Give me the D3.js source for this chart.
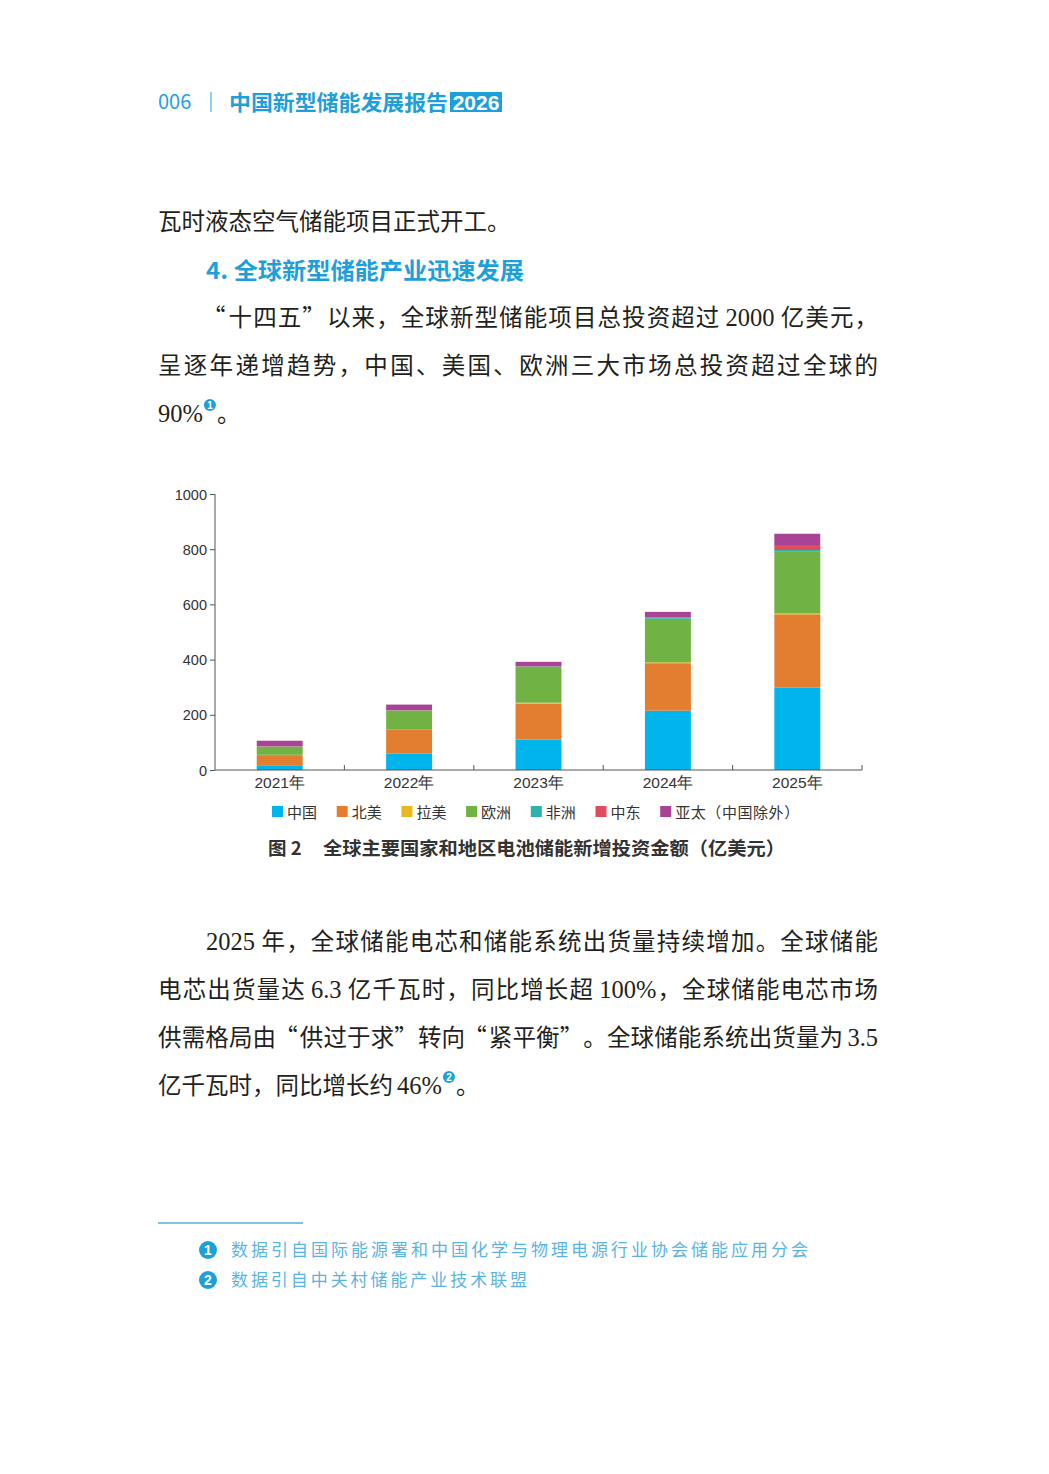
<!DOCTYPE html>
<html>
<head>
<meta charset="utf-8">
<script src="https://cdn.jsdelivr.net/npm/d3@7/dist/d3.min.js"></script>
<style>
  html, body { margin: 0; padding: 0; background: #fff; }
  svg { display: block; }
</style>
</head>
<body>
<div id="page"></div>
<script>
// chart values (亿美元)
var years = ["2021年", "2022年", "2023年", "2024年", "2025年"];
var regions = ["中国", "北美", "拉美", "欧洲", "非洲", "中东", "亚太（中国除外）"];
var china = [15, 59, 110, 215, 299];
var northAmerica = [39, 86, 131, 172, 265];
var latinAmerica = [1, 1, 3, 3, 3];
var europe = [29, 69, 129, 158, 226];
var africa = [1, 1, 2, 3, 4];
var middleEast = [1, 1, 1, 2, 15];
var asiaPacific = [20, 20, 16, 20, 44];
var yTicks = [0, 200, 400, 600, 800, 1000];

var colors = ["#00b4ec", "#e37e31", "#e8b820", "#71b244", "#2db3aa", "#e04c5a", "#a94494"];
var blue = "#1e9fd9";

var W = 1049, H = 1474;
var svg = d3.select("#page").append("svg").attr("width", W).attr("height", H);

// ---- page header
var head = svg.append("g").attr("fill", blue).style("font-family", "'Noto Sans CJK SC', sans-serif");
head.append("text").attr("x", 158).attr("y", 109).style("font-size", "20px").text("006");
head.append("line").attr("x1", 211).attr("x2", 211).attr("y1", 92).attr("y2", 112)
    .attr("stroke", blue).attr("stroke-width", 1);
head.append("text").attr("x", 229).attr("y", 110).style("font-size", "21px").style("font-weight", "bold")
    .attr("textLength", 219).attr("lengthAdjust", "spacingAndGlyphs").text("中国新型储能发展报告");
head.append("rect").attr("x", 450).attr("y", 92).attr("width", 52).attr("height", 20).attr("fill", blue);
head.append("text").attr("x", 476).attr("y", 110).attr("text-anchor", "middle").attr("fill", "#fff")
    .style("font-family", "Arial, 'Liberation Sans', sans-serif")
    .style("font-size", "21px").style("font-weight", "bold").text("2026");

// ---- body text, laid out token by token so that CJK glyphs take the spacing
var cjkFont = "'Noto Sans CJK SC', sans-serif";
var latinFont = "'Liberation Serif', serif";
var fs = 23.5;

function setLine(g, x, y, str, width) {
  var tokens = str.match(/[A-Za-z0-9.%]+|\s+|./g);
  var items = tokens.map(function(tk) {
    var isLatin = /^[A-Za-z0-9.%]+$/.test(tk);
    var isSpace = /^\s+$/.test(tk);
    var t = g.append("text").attr("y", y).text(isSpace ? "" : tk)
        .style("font-family", isLatin ? latinFont : cjkFont)
        .style("font-size", (isLatin ? fs + 1 : fs) + "px");
    var w;
    if (isSpace) w = 4;
    else if (tk === "“" || tk === "”") w = fs;
    else w = t.node().getComputedTextLength();
    if (tk === "“") t.attr("text-anchor", "end");
    return { t: t, w: w, tk: tk };
  });
  var total = d3.sum(items, function(d) { return d.w; });
  var gap = width ? (width - total) / (items.length - 1) : 0;
  var cx = x;
  items.forEach(function(d) {
    d.t.attr("x", d.tk === "“" ? cx + d.w - 2 : cx);
    cx += d.w + gap;
  });
  return cx - gap;
}

var body = svg.append("g").attr("fill", "#231f20");

setLine(body, 158, 230, "瓦时液态空气储能项目正式开工。");
svg.append("text").attr("x", 206).attr("y", 279).attr("fill", blue)
    .style("font-family", cjkFont).style("font-size", "23px").style("font-weight", "bold")
    .attr("textLength", 318).attr("lengthAdjust", "spacingAndGlyphs")
    .text("4. 全球新型储能产业迅速发展");
setLine(body, 204, 326, "“十四五”以来，全球新型储能项目总投资超过 2000 亿美元，", 674);
setLine(body, 158, 374, "呈逐年递增趋势，中国、美国、欧洲三大市场总投资超过全球的", 720);
var end1 = setLine(body, 158, 422, "90%");
setLine(body, end1 + 14, 422, "。");

setLine(body, 206, 950, "2025 年，全球储能电芯和储能系统出货量持续增加。全球储能", 672);
setLine(body, 158, 998, "电芯出货量达 6.3 亿千瓦时，同比增长超 100%，全球储能电芯市场", 720);
setLine(body, 158, 1046, "供需格局由“供过于求”转向“紧平衡”。全球储能系统出货量为 3.5", 720);
var end2 = setLine(body, 158, 1094, "亿千瓦时，同比增长约 46%");
setLine(body, end2 + 14, 1094, "。");

// footnote markers
function marker(cx, cy, r, n, size) {
  svg.append("circle").attr("cx", cx).attr("cy", cy).attr("r", r).attr("fill", blue);
  svg.append("text").attr("x", cx).attr("y", cy + size * 0.36).attr("text-anchor", "middle")
      .attr("fill", "#fff").style("font-family", "'Liberation Sans', sans-serif")
      .style("font-size", size + "px").style("font-weight", "bold").text(n);
}
marker(end1 + 7, 405, 6, "1", 10);
marker(end2 + 7, 1077, 6, "2", 10);

// ---- chart
var margin = { left: 215, right: 862, top: 494, bottom: 770 };

var stackData = years.map(function(y, i) {
  return { year: y, v0: china[i], v1: northAmerica[i], v2: latinAmerica[i], v3: europe[i],
           v4: africa[i], v5: middleEast[i], v6: asiaPacific[i] };
});
var keys = ["v0", "v1", "v2", "v3", "v4", "v5", "v6"];
var series = d3.stack().keys(keys)(stackData);

var x = d3.scaleBand().domain(years).range([margin.left, margin.right]).padding(0);
var y = d3.scaleLinear().domain([0, 1000]).range([margin.bottom, margin.top]);
var barW = x.bandwidth() * 0.355;

var chart = svg.append("g").style("font-family", "'Noto Sans CJK SC', 'Open Sans', sans-serif");

chart.selectAll("g.layer")
  .data(series)
  .enter().append("g")
    .attr("class", "layer")
    .attr("fill", function(d, i) { return colors[i]; })
  .selectAll("rect")
  .data(function(d) { return d; })
  .enter().append("rect")
    .attr("x", function(d) { return x(d.data.year) + (x.bandwidth() - barW) / 2; })
    .attr("width", barW)
    .attr("y", function(d) { return y(d[1]); })
    .attr("height", function(d) { return y(d[0]) - y(d[1]); });

// y axis
var yAxis = chart.append("g")
    .attr("transform", "translate(" + margin.left + ",0)")
    .call(d3.axisLeft(y).tickValues(yTicks).tickSize(5).tickPadding(3).tickFormat(d3.format("d")));
yAxis.select(".domain").attr("stroke", "#555").attr("d", "M0," + margin.top + "V" + margin.bottom);
yAxis.selectAll(".tick line").attr("stroke", "#555");
yAxis.selectAll("text").attr("fill", "#333").style("font-size", "14.5px").attr("dy", "0.35em");

// x axis: labels centred, tick marks on category boundaries
var xAxis = chart.append("g")
    .attr("transform", "translate(0," + margin.bottom + ")")
    .call(d3.axisBottom(x).tickSize(0).tickPadding(7));
xAxis.select(".domain").attr("stroke", "#555").attr("d", "M" + margin.left + ",0H" + margin.right);
xAxis.selectAll("text").attr("fill", "#333").style("font-size", "15.5px");
xAxis.selectAll("line.bound")
  .data(years)
  .enter().append("line")
    .attr("class", "bound")
    .attr("x1", function(d) { return x(d) + x.bandwidth(); })
    .attr("x2", function(d) { return x(d) + x.bandwidth(); })
    .attr("y1", 0).attr("y2", -5)
    .attr("stroke", "#555");

// legend
var legend = chart.append("g").attr("transform", "translate(272,812)");
regions.forEach(function(name, i) {
  var item = legend.append("g").attr("transform", "translate(" + (i * 64.7) + ",0)");
  item.append("rect").attr("x", 0).attr("y", -6).attr("width", 11).attr("height", 11).attr("fill", colors[i]);
  var t = item.append("text").attr("x", 15).attr("y", 6).attr("fill", "#333")
      .style("font-size", "15px").text(name);
  if (name.length > 2) t.attr("textLength", 124).attr("lengthAdjust", "spacing");
});

// caption
var cap = chart.append("g").attr("fill", "#333").style("font-size", "18.5px").style("font-weight", "bold");
cap.append("text").attr("x", 268).attr("y", 855).text("图 2");
cap.append("text").attr("x", 323).attr("y", 855).attr("textLength", 462).attr("lengthAdjust", "spacingAndGlyphs")
    .text("全球主要国家和地区电池储能新增投资金额（亿美元）");

// ---- footnotes
svg.append("line").attr("x1", 158).attr("x2", 303).attr("y1", 1223).attr("y2", 1223)
    .attr("stroke", "#7cc3e0").attr("stroke-width", 2);
marker(208, 1250, 9, "1", 14);
marker(208, 1280, 9, "2", 14);
var notes = svg.append("g").attr("fill", "#5ab4e2")
    .style("font-family", cjkFont).style("font-size", "17px");
notes.append("text").attr("x", 231).attr("y", 1256).attr("textLength", 577).attr("lengthAdjust", "spacing")
    .text("数据引自国际能源署和中国化学与物理电源行业协会储能应用分会");
notes.append("text").attr("x", 231).attr("y", 1286).attr("textLength", 296).attr("lengthAdjust", "spacing")
    .text("数据引自中关村储能产业技术联盟");
</script>
</body>
</html>
